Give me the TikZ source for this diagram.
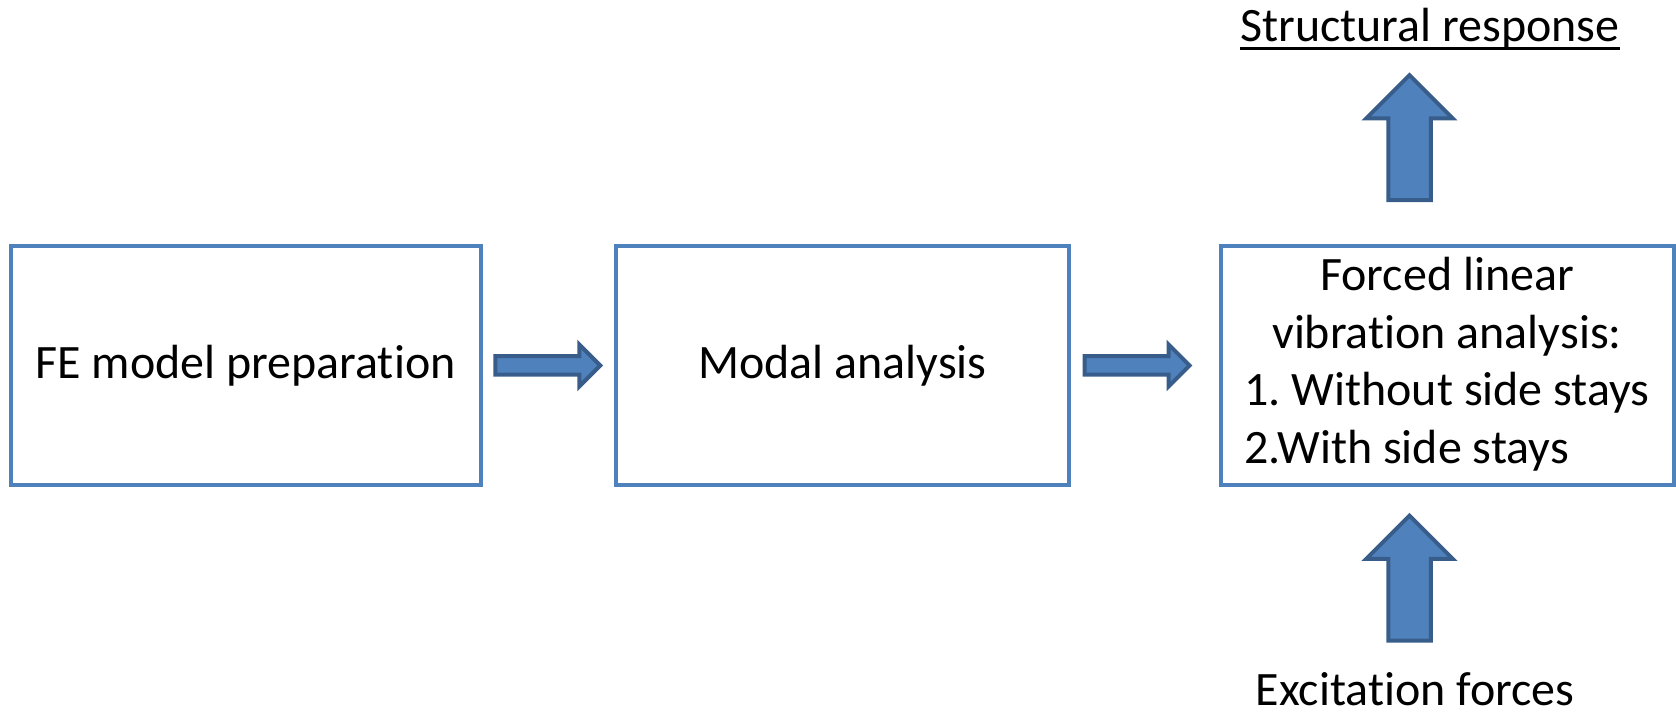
\documentclass[tikz,border=0pt]{standalone}
\usepackage{fontspec}
\setmainfont{Carlito}[Ligatures=NoCommon]
\usepackage{tikz}
\usetikzlibrary{calc,shapes,positioning}
\usetikzlibrary{shapes.arrows}
\definecolor{boxblue}{RGB}{79,129,189}
\definecolor{edgeblue}{RGB}{56,93,138}

\begin{document}
\begin{tikzpicture}
      \tikzstyle{bnode} = [draw=boxblue, line width=0.08cm, rectangle, minimum height=4.79cm, inner sep=0pt, align=center, font=\fontsize{27.3}{32.8}\selectfont]
      \tikzstyle{tnode} = [inner sep=0pt, anchor=base, font=\fontsize{27.3}{32.8}\selectfont]
      \tikzstyle{barrow} = [single arrow, draw=edgeblue, fill=boxblue, line width=0.08cm, inner xsep=0pt, single arrow tip angle=90]

      \useasboundingbox (0,0) rectangle (33.52,14.24);

      \node[bnode, minimum width=9.4cm] (fe) at (4.91,6.93) {FE model preparation};
      \node[bnode, minimum width=9.07cm] (modal) at (16.85,6.93) {Modal analysis};
      \node[bnode, minimum width=9.06cm] (forced) at (28.94,6.93) {\raisebox{-0.08cm}{\begin{tabular}{@{}c@{}} Forced linear\\ vibration analysis:\\ 1.\ Without side stays\\ \multicolumn{1}{@{}l@{}}{2.With side stays} \end{tabular}}};

      \node[tnode] (resp) at (28.6,13.4) {Structural response};
      \node[tnode] (exc) at (28.3,0.12) {Excitation forces};
      \draw[line width=0.06cm] ([yshift=-0.14cm]resp.base west) -- ([yshift=-0.14cm]resp.base east);

      % block arrows
      \node[barrow, minimum height=2.1cm, inner ysep=0.145cm, single arrow head extend=0.235cm] (a1) at ($(fe.east)!0.5!(modal.west)+(-0.1,0)$) {};
      \node[barrow, minimum height=2.1cm, inner ysep=0.145cm, single arrow head extend=0.235cm] (a2) at ($(modal.east)!0.45!(forced.west)+(-0.1,0)$) {};
      \node[barrow, rotate=90, minimum height=2.5cm, inner ysep=0.385cm, single arrow head extend=0.44cm] (a3) at ($(forced.north)+(-0.75,1.91)$) {};
      \node[barrow, rotate=90, minimum height=2.5cm, inner ysep=0.385cm, single arrow head extend=0.44cm] (a4) at ($(forced.south)+(-0.75,-2.03)$) {};
    \end{tikzpicture}
\end{document}
